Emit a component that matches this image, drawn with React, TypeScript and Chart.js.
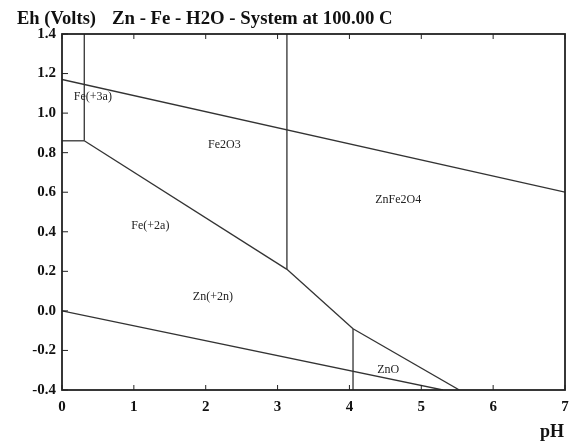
import React, { useEffect, useRef } from "react";
import { Chart, registerables } from "chart.js";

Chart.register(...registerables);

// Phase boundary segments: [pH, Eh] pairs
const o2Line = [[0, 1.17], [7, 0.6]];
const h2Line = [[0, 0.0], [5.3, -0.4]];
const fe3Vertical = [[0.31, 1.4], [0.31, 0.86]];
const fe3Horizontal = [[0, 0.86], [0.31, 0.86]];
const fe2Boundary = [[0.31, 0.86], [3.13, 0.21]];
const fe2o3Vertical = [[3.13, 1.4], [3.13, 0.21]];
const znBoundary = [[3.13, 0.21], [4.05, -0.09]];
const znoVertical = [[4.05, -0.09], [4.05, -0.4]];
const znoBoundary = [[4.05, -0.09], [5.53, -0.4]];

const segments = [o2Line, h2Line, fe3Vertical, fe3Horizontal, fe2Boundary, fe2o3Vertical, znBoundary, znoVertical, znoBoundary];

// Region labels
const regionNames = ["Fe(+3a)", "Fe2O3", "ZnFe2O4", "Fe(+2a)", "Zn(+2n)", "ZnO"];
const regionPH = [0.43, 2.26, 4.68, 1.23, 2.1, 4.54];
const regionEh = [1.08, 0.84, 0.56, 0.43, 0.07, -0.3];

const xTicks = [0, 1, 2, 3, 4, 5, 6, 7];
const yTicks = [-0.4, -0.2, 0.0, 0.2, 0.4, 0.6, 0.8, 1.0, 1.2, 1.4];

const FONT = "'Liberation Serif', 'Times New Roman', serif";

const decorPlugin = {
  id: "decor",
  afterDraw(chart: any) {
    const { ctx, chartArea, scales } = chart;
    const xs = scales.x;
    const ys = scales.y;
    ctx.save();
    // frame
    ctx.strokeStyle = "#222";
    ctx.lineWidth = 1.8;
    ctx.strokeRect(chartArea.left, chartArea.top, chartArea.right - chartArea.left, chartArea.bottom - chartArea.top);
    // inward ticks
    ctx.lineWidth = 1;
    ctx.beginPath();
    xTicks.forEach((v) => {
      const px = xs.getPixelForValue(v);
      ctx.moveTo(px, chartArea.bottom);
      ctx.lineTo(px, chartArea.bottom - 5);
      ctx.moveTo(px, chartArea.top);
      ctx.lineTo(px, chartArea.top + 5);
    });
    yTicks.forEach((v) => {
      const py = ys.getPixelForValue(v);
      ctx.moveTo(chartArea.left, py);
      ctx.lineTo(chartArea.left + 6, py);
    });
    ctx.stroke();
    // region labels
    ctx.fillStyle = "#222";
    ctx.font = "12px " + FONT;
    ctx.textAlign = "center";
    ctx.textBaseline = "middle";
    regionNames.forEach((n, i) => {
      ctx.fillText(n, xs.getPixelForValue(regionPH[i]), ys.getPixelForValue(regionEh[i]));
    });
    // titles
    ctx.fillStyle = "#111";
    ctx.textAlign = "left";
    ctx.textBaseline = "alphabetic";
    ctx.font = "bold 18.5px " + FONT;
    ctx.fillText("Eh (Volts)", 17, 24);
    ctx.font = "bold 18.8px " + FONT;
    ctx.fillText("Zn - Fe - H2O - System at 100.00 C", 112, 24);
    ctx.font = "bold 18px " + FONT;
    ctx.fillText("pH", 540, 437);
    ctx.restore();
  },
};

export default function App() {
  const ref = useRef<HTMLCanvasElement>(null);
  useEffect(() => {
    if (!ref.current) return;
    const chart = new Chart(ref.current, {
      type: "scatter",
      data: {
        datasets: segments.map((s) => ({
          data: s.map((p) => ({ x: p[0], y: p[1] })),
          showLine: true,
          borderColor: "#333",
          borderWidth: 1.3,
          pointRadius: 0,
          fill: false,
        })),
      },
      options: {
        responsive: false,
        animation: false,
        plugins: { legend: { display: false }, tooltip: { enabled: false }, title: { display: false } },
        layout: { padding: { left: 0, top: 34, right: 5, bottom: 0 } },
        scales: {
          x: {
            type: "linear",
            min: 0,
            max: 7,
            afterBuildTicks: (s: any) => { s.ticks = xTicks.map((v) => ({ value: v })); },
            afterFit: (s: any) => { s.height = 53; s.paddingRight = 0; s.paddingLeft = 0; },
            grid: { display: false, drawTicks: false },
            border: { display: false },
            ticks: {
              padding: 8,
              color: "#111",
              font: { family: FONT, size: 15, weight: "bold" },
              maxRotation: 0,
              callback: (v: any) => String(v),
            },
          },
          y: {
            type: "linear",
            min: -0.4,
            max: 1.4,
            afterBuildTicks: (s: any) => { s.ticks = yTicks.map((v) => ({ value: v })); },
            afterFit: (s: any) => { s.width = 62; s.paddingTop = 0; s.paddingBottom = 0; },
            grid: { display: false, drawTicks: false },
            border: { display: false },
            ticks: {
              padding: 6,
              color: "#111",
              font: { family: FONT, size: 15, weight: "bold" },
              callback: (v: any) => Number(v).toFixed(1),
            },
          },
        },
      },
      plugins: [decorPlugin],
    } as any);
    return () => chart.destroy();
  }, []);
  return (
    <div style={{ position: "fixed", left: 0, top: 0, width: 570, height: 443, background: "#fff" }}>
      <canvas ref={ref} width={570} height={443} />
    </div>
  );
}
